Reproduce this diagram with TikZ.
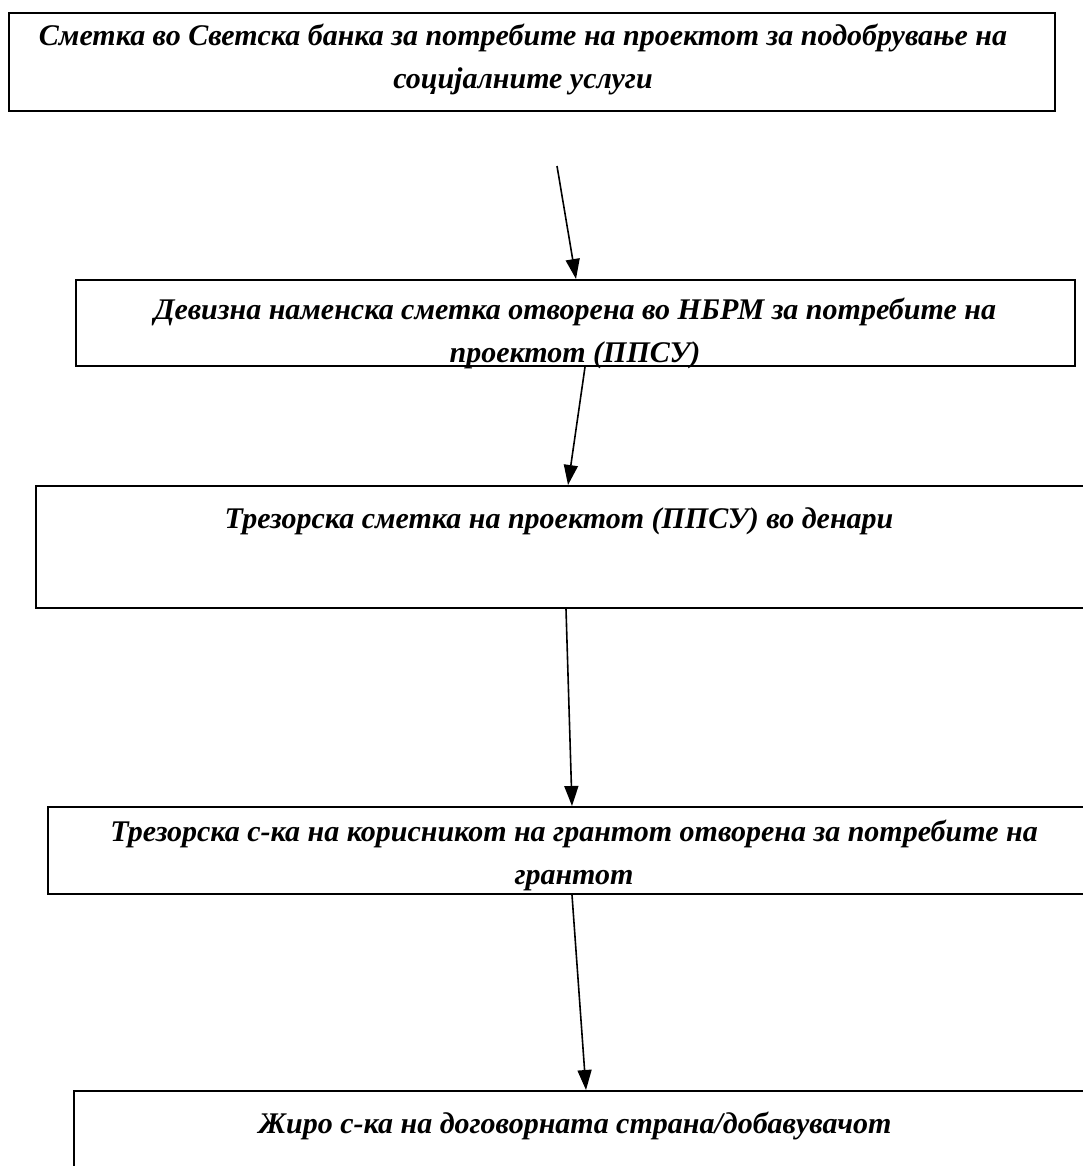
\documentclass[tikz,border=0pt]{standalone}
\usepackage{fontspec}
\setmainfont{Liberation Serif}[Script=Cyrillic,Language=Serbian]
\usetikzlibrary{arrows.meta,calc}
\tikzset{
  box/.style={draw=black,line width=2pt,rectangle,inner sep=0pt,anchor=north west},
  lbl/.style={align=center,inner sep=0pt,font=\fontsize{30}{43}\selectfont\bfseries\itshape},
  arr/.style={line width=1.6pt,-{Triangle[length=20pt,width=14pt]}}
}
\begin{document}
\begin{tikzpicture}[x=1pt,y=-1pt]
\useasboundingbox (0,0) rectangle (1083,1166);
\clip (0,0) rectangle (1083,1166);
% boxes
\node[box,minimum width=1046pt,minimum height=98pt] (b1) at (8,12) {};
\node[box,minimum width=999pt,minimum height=86pt] (b2) at (75,279) {};
\node[box,minimum width=1100pt,minimum height=122pt] (b3) at (35,485) {};
\node[box,minimum width=1100pt,minimum height=87pt] (b4) at (47,806) {};
\node[box,minimum width=1100pt,minimum height=120pt] (b5) at (73,1090) {};
% texts
\node[lbl] (t1) at (523,60) {Сметка во Светска банка за потребите на проектот за подобрување на\\социјалните услуги};
\node[lbl] (t2) at (575,333) {Девизна наменска сметка отворена во НБРМ за потребите на\\проектот (ППСУ)};
\node[lbl] (t3) at (559,521) {Трезорска сметка на проектот (ППСУ) во денари};
\node[lbl] (t4) at (574,855) {Трезорска с-ка на корисникот на грантот отворена за потребите на\\грантот};
\node[lbl] (t5) at (575,1126) {Жиро с-ка на договорната страна/добавувачот};
% connectors
\coordinate (s1) at (557,166);
\coordinate (e1) at ($(b2.north west)+(501,0)$);
\coordinate (s2) at ($(b2.south west)+(510,0)$);
\coordinate (e2) at ($(b3.north west)+(533,0)$);
\coordinate (s3) at ($(b3.south west)+(531,0)$);
\coordinate (e3) at ($(b4.north west)+(525,0)$);
\coordinate (s4) at ($(b4.south west)+(525,0)$);
\coordinate (e4) at ($(b5.north west)+(513,0)$);
\draw[arr] (s1) -- (e1);
\draw[arr] (s2) -- (e2);
\draw[arr] (s3) -- (e3);
\draw[arr] (s4) -- (e4);
\end{tikzpicture}
\end{document}
